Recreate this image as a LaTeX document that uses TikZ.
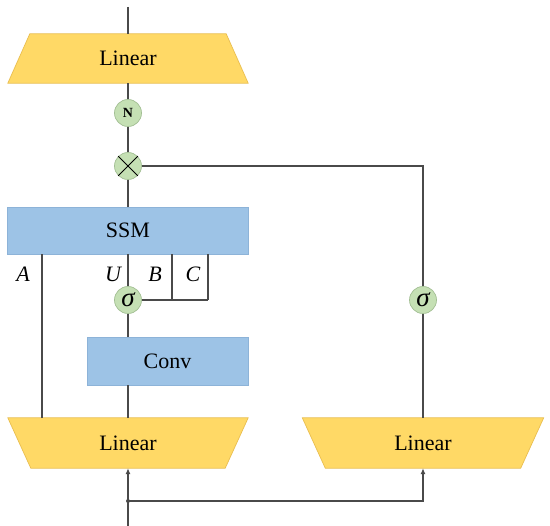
\documentclass[tikz,border=0pt]{standalone}
\usepackage{fontspec}
\setmainfont{Liberation Serif}
\usetikzlibrary{calc,arrows.meta}
\pgfdeclarelayer{background}
\pgfsetlayers{background,main}
\definecolor{lingold}{HTML}{FFD966}
\definecolor{linedge}{HTML}{E9BE50}
\definecolor{ssmblue}{HTML}{9DC3E6}
\definecolor{blueedge}{HTML}{8DB3D8}
\definecolor{circgreen}{HTML}{C5E0B4}
\definecolor{circedge}{HTML}{A3BF94}
\definecolor{wirec}{HTML}{4A4A4A}
\tikzset{
  bluebox/.style={rectangle, fill=ssmblue, draw=blueedge, line width=0.7pt, inner sep=0pt,
    font=\fontsize{22}{24}\selectfont},
  linbox/.style={rectangle, inner sep=0pt, minimum width=240pt, minimum height=50pt,
    font=\fontsize{22}{24}\selectfont},
  trap/.style={fill=lingold, draw=linedge, line width=0.7pt},
  opnode/.style={circle, minimum size=27pt, inner sep=0pt, fill=circgreen, draw=circedge, line width=0.7pt},
  wire/.style={draw=wirec, line width=1.1pt},
  lab/.style={font=\fontsize{22}{24}\selectfont\itshape, inner sep=0pt},
  sig/.style={font=\fontsize{27}{27}\selectfont\itshape},
  tip/.style={-{Latex[length=6pt,width=5pt]}}
}
\begin{document}
\begin{tikzpicture}[x=1pt,y=-1pt]
\useasboundingbox (0,0) rectangle (550,526);

% nodes
\node[linbox, minimum height=49pt] (lin1) at (128,58.5) {Linear};
\node[opnode, font=\bfseries\fontsize{14}{14}\selectfont] (nrm) at (128,113) {N};
\node[opnode] (mul) at (128,166) {};
\node[bluebox, minimum width=241pt, minimum height=47pt] (ssm) at (128,230.5) {SSM};
\node[opnode, sig] (sigu) at (128,300) {σ};
\node[bluebox, minimum width=161pt, minimum height=48pt] (conv) at (167.5,361) {Conv};
\node[linbox] (lin2) at (128,443) {Linear};
\node[linbox, minimum width=241pt] (lin3) at (423,443) {Linear};
\node[opnode, sig] (sigr) at (423,300) {σ};

\node[lab] (la) at (23,274) {A};
\node[lab] (lu) at (113,274) {U};
\node[lab] (lb) at (155,274) {B};
\node[lab] (lc) at (193,274) {C};

\coordinate (top) at (128,7);
\coordinate (bot) at (128,526);
\coordinate (split) at (128,501);
\coordinate (corner) at (423,166);
\coordinate (bend) at (172,300);
\coordinate (cend) at (208,300);
\coordinate (aline) at (42,300);

% trapezoids
\begin{pgfonlayer}{background}
\draw[trap] ($(lin1.north west)+(22,0)$) -- ($(lin1.north east)+(-22,0)$) -- (lin1.south east) -- (lin1.south west) -- cycle;
\draw[trap] (lin2.north west) -- (lin2.north east) -- ($(lin2.south east)+(-23,0)$) -- ($(lin2.south west)+(23,0)$) -- cycle;
\draw[trap] (lin3.north west) -- (lin3.north east) -- ($(lin3.south east)+(-23,0)$) -- ($(lin3.south west)+(23,0)$) -- cycle;
\end{pgfonlayer}

% cross
\draw[black, line width=1pt] (mul.45) -- (mul.225) (mul.135) -- (mul.315);

% wires
\draw[wire] (top) -- (lin1.north);
\draw[wire] (lin1.south) -- (nrm.north);
\draw[wire] (nrm.south) -- (mul.north);
\draw[wire] (mul.south) -- (ssm.north);
\draw[wire] (mul.east) -- (corner) -- (sigr.north);
\draw[wire] (sigr.south) -- (lin3.north);
\draw[wire] (ssm.south) -- (sigu.north);
\draw[wire] (sigu.south) -- (sigu.south |- conv.north);
\draw[wire] (sigu |- conv.south) -- (lin2.north);
\draw[wire] (aline |- ssm.south) -- (aline |- lin2.north);
\draw[wire] (bend |- ssm.south) -- (bend);
\draw[wire] (cend |- ssm.south) -- (cend);
\draw[wire] (sigu.east) -- (cend);

\draw[wire] (bot) -- (split);
\draw[wire, tip] (split) -- (lin2.south);
\draw[wire, tip] (split) -- (split -| lin3) -- (lin3.south);
\fill[wirec] (split) circle (2pt);
\end{tikzpicture}
\end{document}
